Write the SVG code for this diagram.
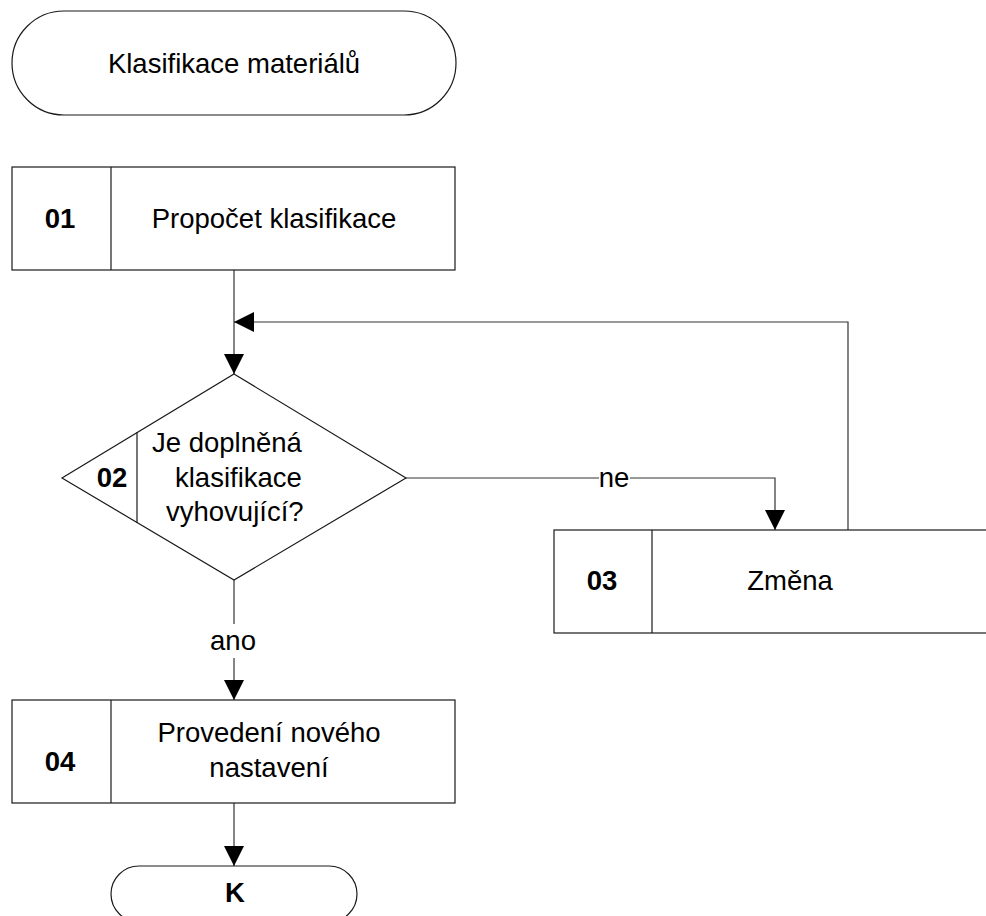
<svg xmlns="http://www.w3.org/2000/svg" width="986" height="916" viewBox="0 0 986 916">
<style>
  .shape { fill: #ffffff; stroke: #1a1a1a; stroke-width: 1.2; }
  .div { stroke: #1a1a1a; stroke-width: 1.2; fill: none; }
  .conn { fill: none; stroke: #333333; stroke-width: 1.2; }
  .t { font-family: "Liberation Sans", Arial, sans-serif; font-size: 27.5px; fill: #000000; }
  .c { text-anchor: middle; }
  .b { font-weight: bold; }
  .lblbg { fill: #ffffff; stroke: none; }
</style>
<defs>
  <marker id="arr" markerUnits="userSpaceOnUse" markerWidth="20" markerHeight="20" viewBox="0 0 20 20" refX="20" refY="10" orient="auto">
    <path d="M0,0 L20,10 L0,20 z" fill="#000000"/>
  </marker>
</defs>
<rect x="0" y="0" width="986" height="916" fill="#ffffff"/>

<g id="connectors">
  <path class="conn" d="M234,270 V374" marker-end="url(#arr)"/>
  <path class="conn" d="M848,530 V322 H234" marker-end="url(#arr)"/>
  <path class="conn" d="M406,478 H775 V530" marker-end="url(#arr)"/>
  <rect class="lblbg" x="599" y="462" width="31" height="30"/>
  <text class="t c" x="614" y="487">ne</text>
  <path class="conn" d="M234,580 V700" marker-end="url(#arr)"/>
  <rect class="lblbg" x="208" y="624" width="52" height="34"/>
  <text class="t c" x="233" y="650">ano</text>
  <path class="conn" d="M234,803 V866" marker-end="url(#arr)"/>
</g>

<g id="start">
  <rect class="shape" x="12" y="11" width="444" height="104" rx="52" ry="52"/>
  <text class="t c" x="234" y="73">Klasifikace materiálů</text>
</g>

<g id="n01">
  <rect class="shape" x="12" y="167" width="443" height="103"/>
  <line class="div" x1="111" y1="167" x2="111" y2="270"/>
  <text class="t c b" x="60" y="228">01</text>
  <text class="t c" x="274" y="228">Propočet klasifikace</text>
</g>

<g id="n02">
  <polygon class="shape" points="234,374 406,478 234,580 62,478"/>
  <line class="div" x1="137" y1="432" x2="137" y2="523"/>
  <text class="t c b" x="112" y="487">02</text>
  <text class="t" x="152" y="452">Je doplněná</text>
  <text class="t" x="175" y="487">klasifikace</text>
  <text class="t" x="166" y="521">vyhovující?</text>
</g>

<g id="n03">
  <rect class="shape" x="554" y="530" width="500" height="103"/>
  <line class="div" x1="652" y1="530" x2="652" y2="633"/>
  <text class="t c b" x="602" y="590">03</text>
  <text class="t c" x="790" y="590">Změna</text>
</g>

<g id="n04">
  <rect class="shape" x="12" y="700" width="443" height="103"/>
  <line class="div" x1="111" y1="700" x2="111" y2="803"/>
  <text class="t c b" x="60" y="771">04</text>
  <text class="t c" x="269" y="742">Provedení nového</text>
  <text class="t c" x="269" y="777">nastavení</text>
</g>

<g id="end">
  <rect class="shape" x="111" y="866" width="246" height="56" rx="28" ry="28"/>
  <text class="t c b" x="235" y="902">K</text>
</g>
</svg>
